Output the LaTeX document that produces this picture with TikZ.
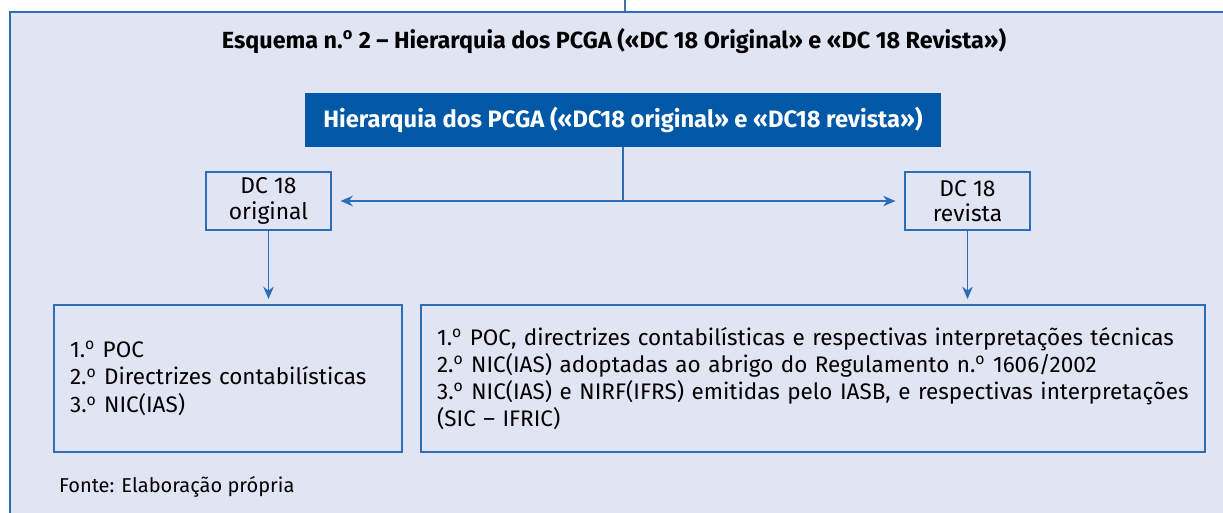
\documentclass[tikz,border=0pt]{standalone}
\usepackage{fontspec}
\setmainfont{Fira Sans}
\usepackage{xcolor}
\usetikzlibrary{arrows.meta,positioning}
\definecolor{fondo}{HTML}{E0E4F3}
\definecolor{azul}{HTML}{2B6DB8}
\definecolor{azulescuro}{HTML}{0058A7}
\newcommand{\ord}{.\textsuperscript{o}}
\tikzset{
	caixa/.style={draw=azul,line width=0.9pt,align=center,font=\fontsize{13}{14.5}\selectfont,inner sep=0pt},
	lista/.style={draw=azul,line width=0.9pt,align=left,inner xsep=0.32cm,inner ysep=0pt,font=\fontsize{12.8}{15.3}\selectfont},
	seta/.style={azul,line width=0.9pt,-{Stealth[length=7pt,width=6pt]}}
}
\begin{document}
\begin{tikzpicture}[x=0.02cm,y=-0.02cm]
	\useasboundingbox (0,0) rectangle (1223,512);
	\draw[fill=fondo,draw=azul,line width=0.9pt] (10,12) rectangle (1260,540);
	\coordinate (topo) at (625,0);
	\coordinate (borda) at (625,12);
	\draw[azul!70!gray,line width=0.6pt] (topo)--(borda);
	\node (titulo) at (614,41) {\fontsize{13.3}{15}\selectfont\bfseries Esquema n\ord\ 2 – Hierarquia dos PCGA («DC 18 Original» e «DC 18 Revista»)};
	\node[fill=azulescuro,text=white,minimum width=12.72cm,minimum height=1.08cm,inner sep=0pt,font=\fontsize{13.5}{15}\selectfont\bfseries] (hier) at (623,120) {Hierarquia dos PCGA («DC18 original» e «DC18 revista»)};
	\node[caixa,minimum width=2.5cm,minimum height=1.16cm] (orig) at (268.5,201) {DC 18\\original};
	\node[caixa,minimum width=2.5cm,minimum height=1.16cm] (rev) at (967.5,201) {DC 18\\revista};
	\coordinate (centro) at (hier.south |- orig.east);
	\draw[azul,line width=0.9pt] (hier.south)--(centro);
	\draw[seta] (centro)--([xshift=5pt]orig.east);
	\draw[seta] (centro)--([xshift=-5pt]rev.west);
	\node[lista,text width=6.32cm,minimum height=2.94cm,font=\fontsize{12.8}{15.9}\selectfont] (esq) at (228,378.5) {1\ord\ POC\\2\ord\ Directrizes contabilísticas\\3\ord\ NIC(IAS)};
	\node[lista,text width=15.04cm,minimum height=2.94cm] (dir) at (813,378.5) {1\ord\ POC, directrizes contabilísticas e respectivas interpretações técnicas\\2\ord\ NIC(IAS) adoptadas ao abrigo do Regulamento n\ord\ 1606/2002\\3\ord\ NIC(IAS) e NIRF(IFRS) emitidas pelo IASB, e respectivas interpretações\\(SIC – IFRIC)};
	\draw[seta] (orig.south)--([yshift=3pt]orig.south |- esq.north);
	\draw[seta] (rev.south)--([yshift=3pt]rev.south |- dir.north);
	\node[anchor=west,font=\fontsize{11.4}{13}\selectfont] (fonte) at (53,487) {Fonte: Elaboração própria};
\end{tikzpicture}
\end{document}
